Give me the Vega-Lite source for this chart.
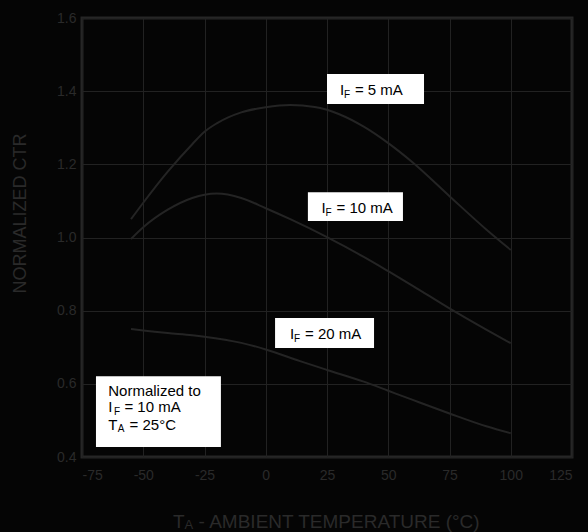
{
  "$schema": "https://vega.github.io/schema/vega-lite/v6.json",
  "width": 490,
  "height": 439,
  "autosize": {"type": "none"},
  "padding": {"left": 82, "top": 18, "right": 16, "bottom": 75},
  "background": "#050505",
  "config": {
    "view": {"stroke": "#262626", "strokeWidth": 3, "fill": "#050505"},
    "axis": {
      "grid": true,
      "gridColor": "#222222",
      "gridWidth": 1,
      "domain": false,
      "ticks": false,
      "labelColor": "#2a2a2a",
      "labelFont": "Liberation Sans",
      "labelFontSize": 14,
      "titleColor": "#2a2a2a",
      "titleFont": "Liberation Sans",
      "titleFontWeight": "normal"
    }
  },
  "datasets": {
    "curves": [
      {"s": "5", "x": -55, "y": 1.05}, {"s": "5", "x": -50, "y": 1.095}, {"s": "5", "x": -40, "y": 1.18},
      {"s": "5", "x": -30, "y": 1.255}, {"s": "5", "x": -25, "y": 1.289}, {"s": "5", "x": -20, "y": 1.312},
      {"s": "5", "x": -10, "y": 1.342}, {"s": "5", "x": 0, "y": 1.356}, {"s": "5", "x": 10, "y": 1.362},
      {"s": "5", "x": 20, "y": 1.357}, {"s": "5", "x": 25, "y": 1.349}, {"s": "5", "x": 30, "y": 1.337},
      {"s": "5", "x": 40, "y": 1.303}, {"s": "5", "x": 50, "y": 1.258}, {"s": "5", "x": 60, "y": 1.205},
      {"s": "5", "x": 75, "y": 1.113}, {"s": "5", "x": 90, "y": 1.022}, {"s": "5", "x": 100, "y": 0.966},
      {"s": "10", "x": -55, "y": 0.996}, {"s": "10", "x": -50, "y": 1.028}, {"s": "10", "x": -40, "y": 1.076},
      {"s": "10", "x": -30, "y": 1.108}, {"s": "10", "x": -25, "y": 1.117}, {"s": "10", "x": -20, "y": 1.12},
      {"s": "10", "x": -10, "y": 1.108}, {"s": "10", "x": 0, "y": 1.08}, {"s": "10", "x": 10, "y": 1.05},
      {"s": "10", "x": 25, "y": 1.001}, {"s": "10", "x": 40, "y": 0.947}, {"s": "10", "x": 50, "y": 0.908},
      {"s": "10", "x": 60, "y": 0.868}, {"s": "10", "x": 75, "y": 0.806}, {"s": "10", "x": 90, "y": 0.748},
      {"s": "10", "x": 100, "y": 0.711},
      {"s": "20", "x": -55, "y": 0.75}, {"s": "20", "x": -50, "y": 0.746}, {"s": "20", "x": -40, "y": 0.739},
      {"s": "20", "x": -30, "y": 0.733}, {"s": "20", "x": -25, "y": 0.729}, {"s": "20", "x": -10, "y": 0.712},
      {"s": "20", "x": 0, "y": 0.694}, {"s": "20", "x": 14, "y": 0.662}, {"s": "20", "x": 25, "y": 0.638},
      {"s": "20", "x": 40, "y": 0.606}, {"s": "20", "x": 50, "y": 0.581}, {"s": "20", "x": 60, "y": 0.556},
      {"s": "20", "x": 75, "y": 0.519}, {"s": "20", "x": 90, "y": 0.484}, {"s": "20", "x": 100, "y": 0.465}
    ],
    "boxes": [
      {"x": 25.0, "x2": 64.6, "y": 1.447, "y2": 1.365},
      {"x": 17.2, "x2": 56.0, "y": 1.124, "y2": 1.045},
      {"x": 3.8, "x2": 44.2, "y": 0.78, "y2": 0.698},
      {"x": -69.3, "x2": -18.3, "y": 0.621, "y2": 0.427}
    ],
    "mainText": [
      {"x": 30.3, "y": 1.39, "t": "I"}, {"x": 36.4, "y": 1.39, "t": "= 5 mA"},
      {"x": 22.8, "y": 1.068, "t": "I"}, {"x": 28.9, "y": 1.068, "t": "= 10 mA"},
      {"x": 9.9, "y": 0.723, "t": "I"}, {"x": 16.0, "y": 0.723, "t": "= 20 mA"},
      {"x": -64.3, "y": 0.568, "t": "Normalized to"},
      {"x": -64.3, "y": 0.522, "t": "I"}, {"x": -57.7, "y": 0.522, "t": "= 10 mA"},
      {"x": -64.3, "y": 0.473, "t": "T"}, {"x": -55.6, "y": 0.473, "t": "= 25°C"}
    ],
    "subText": [
      {"x": 31.9, "y": 1.381, "t": "F"},
      {"x": 24.4, "y": 1.059, "t": "F"},
      {"x": 11.5, "y": 0.714, "t": "F"},
      {"x": -61.9, "y": 0.516, "t": "F"},
      {"x": -60.4, "y": 0.467, "t": "A"}
    ],
    "xTitle": [
      {"x": -37.9, "y": 0.207, "t": "T", "sz": "big"},
      {"x": -33.2, "y": 0.203, "t": "A", "sz": "small"},
      {"x": -27.4, "y": 0.207, "t": "- AMBIENT TEMPERATURE (°C)", "sz": "big"}
    ]
  },
  "layer": [
    {
      "data": {"name": "curves"},
      "mark": {"type": "line", "color": "#242424", "strokeWidth": 2, "interpolate": "monotone"},
      "encoding": {
        "x": {
          "field": "x", "type": "quantitative",
          "scale": {"domain": [-75, 125], "nice": false, "zero": false},
          "axis": {
            "values": [-75, -50, -25, 0, 25, 50, 75, 100, 125],
            "labelExpr": "'' + datum.value",
            "labelPadding": 11,
            "title": null
          }
        },
        "y": {
          "field": "y", "type": "quantitative",
          "scale": {"domain": [0.4, 1.6], "nice": false, "zero": false},
          "axis": {
            "values": [0.4, 0.6, 0.8, 1.0, 1.2, 1.4, 1.6],
            "format": ".1f",
            "labelPadding": 6,
            "title": "NORMALIZED CTR",
            "titleFontSize": 18,
            "titleAngle": 270,
            "titleAlign": "center",
            "titleBaseline": "alphabetic",
            "titleX": -57,
            "titleY": 195
          }
        },
        "detail": {"field": "s"}
      }
    },
    {
      "data": {"name": "boxes"},
      "mark": {"type": "rect", "fill": "#ffffff"},
      "encoding": {
        "x": {"field": "x", "type": "quantitative"},
        "x2": {"field": "x2"},
        "y": {"field": "y", "type": "quantitative"},
        "y2": {"field": "y2"}
      }
    },
    {
      "data": {"name": "mainText"},
      "mark": {"type": "text", "font": "Liberation Sans", "fontSize": 15, "color": "#000000", "align": "left", "baseline": "alphabetic"},
      "encoding": {
        "x": {"field": "x", "type": "quantitative"},
        "y": {"field": "y", "type": "quantitative"},
        "text": {"field": "t"}
      }
    },
    {
      "data": {"name": "subText"},
      "mark": {"type": "text", "font": "Liberation Sans", "fontSize": 10, "color": "#000000", "align": "left", "baseline": "alphabetic"},
      "encoding": {
        "x": {"field": "x", "type": "quantitative"},
        "y": {"field": "y", "type": "quantitative"},
        "text": {"field": "t"}
      }
    },
    {
      "data": {"name": "xTitle"},
      "mark": {"type": "text", "font": "Liberation Sans", "color": "#2a2a2a", "align": "left", "baseline": "alphabetic"},
      "encoding": {
        "x": {"field": "x", "type": "quantitative"},
        "y": {"field": "y", "type": "quantitative"},
        "text": {"field": "t"},
        "size": {"field": "sz", "type": "nominal", "scale": {"domain": ["big", "small"], "range": [19, 13]}, "legend": null}
      }
    }
  ]
}
